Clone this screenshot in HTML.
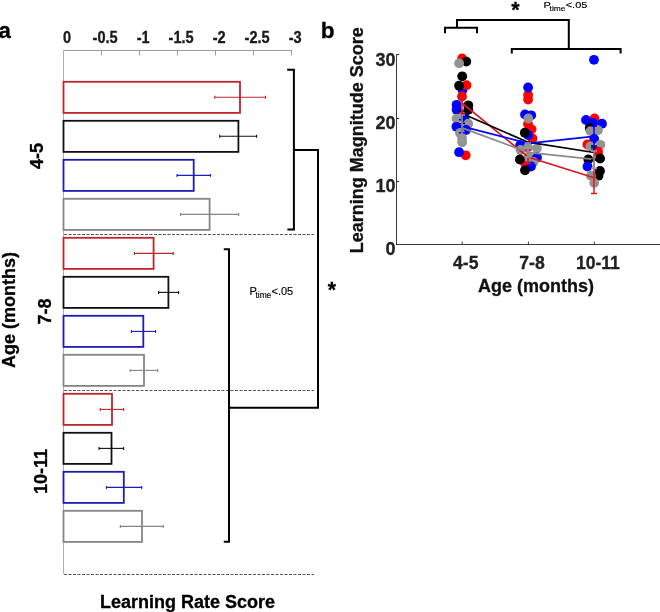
<!DOCTYPE html><html><head><meta charset="utf-8"><style>html,body{margin:0;padding:0;background:#fff;}svg{display:block;will-change:transform}</style></head><body>
<svg width="660" height="612" viewBox="0 0 660 612" font-family="Liberation Sans, sans-serif">
<rect width="660" height="612" fill="#fff"/>
<text x="-1.6" y="37.7" font-size="22.2" font-weight="bold" fill="#000" stroke="#000" stroke-width="0.3">a</text>
<line x1="63.5" y1="50.5" x2="292" y2="50.5" stroke="#9a9a9a" stroke-width="1"/>
<line x1="63.5" y1="50" x2="63.5" y2="574" stroke="#adadad" stroke-width="1"/>
<text transform="translate(67.1,42.9) scale(0.97,1.1)" font-size="15" font-weight="bold" fill="#1a1a1a" text-anchor="middle" stroke="#1a1a1a" stroke-width="0.3">0</text>
<line x1="101.5" y1="50" x2="101.5" y2="55.5" stroke="#9a9a9a" stroke-width="1"/>
<text transform="translate(105.1,42.9) scale(0.97,1.1)" font-size="15" font-weight="bold" fill="#1a1a1a" text-anchor="middle" stroke="#1a1a1a" stroke-width="0.3">-0.5</text>
<line x1="139.5" y1="50" x2="139.5" y2="55.5" stroke="#9a9a9a" stroke-width="1"/>
<text transform="translate(143.1,42.9) scale(0.97,1.1)" font-size="15" font-weight="bold" fill="#1a1a1a" text-anchor="middle" stroke="#1a1a1a" stroke-width="0.3">-1</text>
<line x1="177.5" y1="50" x2="177.5" y2="55.5" stroke="#9a9a9a" stroke-width="1"/>
<text transform="translate(181.1,42.9) scale(0.97,1.1)" font-size="15" font-weight="bold" fill="#1a1a1a" text-anchor="middle" stroke="#1a1a1a" stroke-width="0.3">-1.5</text>
<line x1="215.5" y1="50" x2="215.5" y2="55.5" stroke="#9a9a9a" stroke-width="1"/>
<text transform="translate(219.1,42.9) scale(0.97,1.1)" font-size="15" font-weight="bold" fill="#1a1a1a" text-anchor="middle" stroke="#1a1a1a" stroke-width="0.3">-2</text>
<line x1="253.5" y1="50" x2="253.5" y2="55.5" stroke="#9a9a9a" stroke-width="1"/>
<text transform="translate(257.1,42.9) scale(0.97,1.1)" font-size="15" font-weight="bold" fill="#1a1a1a" text-anchor="middle" stroke="#1a1a1a" stroke-width="0.3">-2.5</text>
<line x1="291.5" y1="50" x2="291.5" y2="55.5" stroke="#9a9a9a" stroke-width="1"/>
<text transform="translate(295.1,42.9) scale(0.97,1.1)" font-size="15" font-weight="bold" fill="#1a1a1a" text-anchor="middle" stroke="#1a1a1a" stroke-width="0.3">-3</text>
<rect x="63.5" y="81.8" width="176.5" height="31.1" fill="none" stroke="#c0252b" stroke-width="1.8"/>
<line x1="214.8" y1="97.3" x2="265.5" y2="97.3" stroke="#c0252b" stroke-width="1.1"/>
<line x1="214.8" y1="95.8" x2="214.8" y2="98.8" stroke="#c0252b" stroke-width="1.1"/>
<line x1="265.5" y1="95.8" x2="265.5" y2="98.8" stroke="#c0252b" stroke-width="1.1"/>
<rect x="63.5" y="120.8" width="174.9" height="31.1" fill="none" stroke="#111111" stroke-width="1.8"/>
<line x1="219.8" y1="136.3" x2="256.6" y2="136.3" stroke="#111111" stroke-width="1.1"/>
<line x1="219.8" y1="134.8" x2="219.8" y2="137.8" stroke="#111111" stroke-width="1.1"/>
<line x1="256.6" y1="134.8" x2="256.6" y2="137.8" stroke="#111111" stroke-width="1.1"/>
<rect x="63.5" y="159.8" width="130.2" height="31.1" fill="none" stroke="#1e1eb4" stroke-width="1.8"/>
<line x1="177.0" y1="175.4" x2="210.5" y2="175.4" stroke="#1e1eb4" stroke-width="1.1"/>
<line x1="177.0" y1="173.9" x2="177.0" y2="176.9" stroke="#1e1eb4" stroke-width="1.1"/>
<line x1="210.5" y1="173.9" x2="210.5" y2="176.9" stroke="#1e1eb4" stroke-width="1.1"/>
<rect x="63.5" y="198.8" width="146.1" height="31.1" fill="none" stroke="#858585" stroke-width="1.8"/>
<line x1="180.6" y1="214.4" x2="238.7" y2="214.4" stroke="#858585" stroke-width="1.1"/>
<line x1="180.6" y1="212.9" x2="180.6" y2="215.9" stroke="#858585" stroke-width="1.1"/>
<line x1="238.7" y1="212.9" x2="238.7" y2="215.9" stroke="#858585" stroke-width="1.1"/>
<rect x="63.5" y="237.8" width="90.1" height="31.1" fill="none" stroke="#c0252b" stroke-width="1.8"/>
<line x1="134.4" y1="253.4" x2="173.3" y2="253.4" stroke="#c0252b" stroke-width="1.1"/>
<line x1="134.4" y1="251.9" x2="134.4" y2="254.9" stroke="#c0252b" stroke-width="1.1"/>
<line x1="173.3" y1="251.9" x2="173.3" y2="254.9" stroke="#c0252b" stroke-width="1.1"/>
<rect x="63.5" y="276.8" width="104.9" height="31.1" fill="none" stroke="#111111" stroke-width="1.8"/>
<line x1="158.6" y1="292.4" x2="178.6" y2="292.4" stroke="#111111" stroke-width="1.1"/>
<line x1="158.6" y1="290.9" x2="158.6" y2="293.9" stroke="#111111" stroke-width="1.1"/>
<line x1="178.6" y1="290.9" x2="178.6" y2="293.9" stroke="#111111" stroke-width="1.1"/>
<rect x="63.5" y="315.8" width="79.8" height="31.1" fill="none" stroke="#1e1eb4" stroke-width="1.8"/>
<line x1="131.4" y1="331.4" x2="155.6" y2="331.4" stroke="#1e1eb4" stroke-width="1.1"/>
<line x1="131.4" y1="329.9" x2="131.4" y2="332.9" stroke="#1e1eb4" stroke-width="1.1"/>
<line x1="155.6" y1="329.9" x2="155.6" y2="332.9" stroke="#1e1eb4" stroke-width="1.1"/>
<rect x="63.5" y="354.8" width="80.5" height="31.1" fill="none" stroke="#858585" stroke-width="1.8"/>
<line x1="130.2" y1="370.4" x2="157.7" y2="370.4" stroke="#858585" stroke-width="1.1"/>
<line x1="130.2" y1="368.9" x2="130.2" y2="371.9" stroke="#858585" stroke-width="1.1"/>
<line x1="157.7" y1="368.9" x2="157.7" y2="371.9" stroke="#858585" stroke-width="1.1"/>
<rect x="63.5" y="393.8" width="48.5" height="31.1" fill="none" stroke="#c0252b" stroke-width="1.8"/>
<line x1="100.3" y1="409.4" x2="123.6" y2="409.4" stroke="#c0252b" stroke-width="1.1"/>
<line x1="100.3" y1="407.9" x2="100.3" y2="410.9" stroke="#c0252b" stroke-width="1.1"/>
<line x1="123.6" y1="407.9" x2="123.6" y2="410.9" stroke="#c0252b" stroke-width="1.1"/>
<rect x="63.5" y="432.8" width="48.0" height="31.1" fill="none" stroke="#111111" stroke-width="1.8"/>
<line x1="99.0" y1="448.4" x2="123.6" y2="448.4" stroke="#111111" stroke-width="1.1"/>
<line x1="99.0" y1="446.9" x2="99.0" y2="449.9" stroke="#111111" stroke-width="1.1"/>
<line x1="123.6" y1="446.9" x2="123.6" y2="449.9" stroke="#111111" stroke-width="1.1"/>
<rect x="63.5" y="471.8" width="60.3" height="31.1" fill="none" stroke="#1e1eb4" stroke-width="1.8"/>
<line x1="106.4" y1="487.4" x2="141.7" y2="487.4" stroke="#1e1eb4" stroke-width="1.1"/>
<line x1="106.4" y1="485.9" x2="106.4" y2="488.9" stroke="#1e1eb4" stroke-width="1.1"/>
<line x1="141.7" y1="485.9" x2="141.7" y2="488.9" stroke="#1e1eb4" stroke-width="1.1"/>
<rect x="63.5" y="510.8" width="78.5" height="31.1" fill="none" stroke="#858585" stroke-width="1.8"/>
<line x1="120.3" y1="526.4" x2="163.3" y2="526.4" stroke="#858585" stroke-width="1.1"/>
<line x1="120.3" y1="524.9" x2="120.3" y2="527.9" stroke="#858585" stroke-width="1.1"/>
<line x1="163.3" y1="524.9" x2="163.3" y2="527.9" stroke="#858585" stroke-width="1.1"/>
<line x1="64" y1="234.5" x2="314" y2="234.5" stroke="#555" stroke-width="1" stroke-dasharray="3 1.5"/>
<line x1="64" y1="390.5" x2="314" y2="390.5" stroke="#555" stroke-width="1" stroke-dasharray="3 1.5"/>
<line x1="64" y1="574.5" x2="314" y2="574.5" stroke="#555" stroke-width="1" stroke-dasharray="3 1.5"/>
<path d="M287.2,69.8 H293.9 V229.4 H287.4 M293.9,150 H318 V407.7 H229 M223.8,249.2 H229 V541.8 H223.8" fill="none" stroke="#000" stroke-width="2"/>
<text x="249.4" y="294.8" font-size="11" fill="#000" stroke="#000" stroke-width="0.15">P<tspan font-size="8.4" dx="-1.3" dy="3">time</tspan><tspan dx="0.2" dy="-3">&lt;.05</tspan></text>
<text x="331.9" y="297" font-size="21.2" font-weight="bold" text-anchor="middle" fill="#000" stroke="#000" stroke-width="0.3">*</text>
<text transform="translate(43.2,156) rotate(-90)" font-size="18" font-weight="bold" text-anchor="middle" fill="#000" stroke="#000" stroke-width="0.3">4-5</text>
<text transform="translate(51,311.6) rotate(-90)" font-size="18" font-weight="bold" text-anchor="middle" fill="#000" stroke="#000" stroke-width="0.3">7-8</text>
<text transform="translate(47.4,471.5) rotate(-90)" font-size="18" font-weight="bold" text-anchor="middle" fill="#000" stroke="#000" stroke-width="0.3">10-11</text>
<text transform="translate(15.4,310) rotate(-90)" font-size="18" font-weight="bold" text-anchor="middle" fill="#000" stroke="#000" stroke-width="0.3">Age (months)</text>
<text x="100" y="608" font-size="18" font-weight="bold" fill="#000" stroke="#000" stroke-width="0.3">Learning Rate Score</text>
<text x="320.8" y="37.8" font-size="22.6" font-weight="bold" fill="#000" stroke="#000" stroke-width="0.3">b</text>
<text x="515.5" y="17" font-size="21.5" font-weight="bold" text-anchor="middle" fill="#000" stroke="#000" stroke-width="0.3">*</text>
<text transform="translate(543.6,8) scale(1,0.84)" font-size="11" fill="#000" stroke="#000" stroke-width="0.15">P<tspan font-size="8.4" dx="-1.3" dy="3.3">time</tspan><tspan dx="0.2" dy="-3.3">&lt;.05</tspan></text>
<path d="M445,33.3 V27.7 H477 V33.3 M457,27.7 V19.9 H568.8 V48.9 M511.8,53.6 V48.9 H620.6 V53.6" fill="none" stroke="#000" stroke-width="2"/>
<line x1="396.5" y1="54.2" x2="396.5" y2="244.5" stroke="#3a3a3a" stroke-width="1"/>
<line x1="396" y1="244.5" x2="660" y2="244.5" stroke="#3a3a3a" stroke-width="1"/>
<line x1="396.5" y1="54.5" x2="399.2" y2="54.5" stroke="#3a3a3a" stroke-width="1.2"/>
<text x="395.6" y="65.8" font-size="18" font-weight="bold" fill="#222" text-anchor="end" stroke="#222" stroke-width="0.3">30</text>
<line x1="396.5" y1="118.5" x2="399.2" y2="118.5" stroke="#3a3a3a" stroke-width="1.2"/>
<text x="395.6" y="129.0" font-size="18" font-weight="bold" fill="#222" text-anchor="end" stroke="#222" stroke-width="0.3">20</text>
<line x1="396.5" y1="181.5" x2="399.2" y2="181.5" stroke="#3a3a3a" stroke-width="1.2"/>
<text x="395.6" y="192.2" font-size="18" font-weight="bold" fill="#222" text-anchor="end" stroke="#222" stroke-width="0.3">10</text>
<text x="395.6" y="255.4" font-size="18" font-weight="bold" fill="#222" text-anchor="end" stroke="#222" stroke-width="0.3">0</text>
<line x1="462.2" y1="244" x2="462.2" y2="241.6" stroke="#3a3a3a" stroke-width="1"/>
<text x="465.8" y="269" font-size="17.6" font-weight="bold" fill="#222" text-anchor="middle" stroke="#222" stroke-width="0.3">4-5</text>
<line x1="528.4" y1="244" x2="528.4" y2="241.6" stroke="#3a3a3a" stroke-width="1"/>
<text x="532.0" y="269" font-size="17.6" font-weight="bold" fill="#222" text-anchor="middle" stroke="#222" stroke-width="0.3">7-8</text>
<line x1="594.3" y1="244" x2="594.3" y2="241.6" stroke="#3a3a3a" stroke-width="1"/>
<text x="597.9" y="269" font-size="17.6" font-weight="bold" fill="#222" text-anchor="middle" stroke="#222" stroke-width="0.3">10-11</text>
<text x="536" y="291.8" font-size="18" font-weight="bold" fill="#111" text-anchor="middle" stroke="#111" stroke-width="0.3">Age (months)</text>
<text transform="translate(362.8,140.3) rotate(-90)" font-size="18" font-weight="bold" text-anchor="middle" fill="#111" stroke="#111" stroke-width="0.3">Learning Magnitude Score</text>
<circle cx="462.1" cy="58.5" r="4.9" fill="#ff0000"/>
<circle cx="466.3" cy="61.6" r="4.9" fill="#000000"/>
<circle cx="459.1" cy="63.3" r="4.9" fill="#939393"/>
<circle cx="462.2" cy="76.3" r="4.9" fill="#000000"/>
<circle cx="462.5" cy="90.0" r="4.9" fill="#0000ff"/>
<circle cx="466.5" cy="85.2" r="4.9" fill="#ff0000"/>
<circle cx="459.1" cy="85.7" r="4.9" fill="#000000"/>
<circle cx="462" cy="96.5" r="4.9" fill="#ff0000"/>
<circle cx="456.6" cy="104.8" r="4.9" fill="#0000ff"/>
<circle cx="456.6" cy="109.8" r="4.9" fill="#0000ff"/>
<circle cx="468.3" cy="105.3" r="4.9" fill="#000000"/>
<circle cx="468.3" cy="109.8" r="4.9" fill="#000000"/>
<circle cx="464.6" cy="117.8" r="4.9" fill="#0000ff"/>
<circle cx="456.6" cy="118.7" r="4.9" fill="#939393"/>
<circle cx="468.2" cy="123.7" r="4.9" fill="#939393"/>
<circle cx="456.4" cy="126.8" r="4.9" fill="#0000ff"/>
<circle cx="466" cy="130" r="4.9" fill="#0000ff"/>
<circle cx="460" cy="133" r="4.9" fill="#939393"/>
<circle cx="462" cy="138" r="4.9" fill="#939393"/>
<circle cx="462.2" cy="142.3" r="4.9" fill="#939393"/>
<circle cx="465.7" cy="155.3" r="4.9" fill="#ff0000"/>
<circle cx="459.1" cy="152.2" r="4.9" fill="#0000ff"/>
<circle cx="528.1" cy="95" r="4.9" fill="#ff0000"/>
<circle cx="528.1" cy="99.5" r="4.9" fill="#ff0000"/>
<circle cx="528.1" cy="87.5" r="4.9" fill="#0000ff"/>
<circle cx="525" cy="114.5" r="4.9" fill="#0000ff"/>
<circle cx="531.2" cy="115.3" r="4.9" fill="#0000ff"/>
<circle cx="528" cy="124" r="4.9" fill="#ff0000"/>
<circle cx="531.5" cy="129.3" r="4.9" fill="#ff0000"/>
<circle cx="528.3" cy="118.5" r="4.9" fill="#939393"/>
<circle cx="532.5" cy="138.5" r="4.9" fill="#ff0000"/>
<circle cx="528" cy="135" r="4.9" fill="#0000ff"/>
<circle cx="524.8" cy="132.7" r="4.9" fill="#000000"/>
<circle cx="525" cy="163" r="4.9" fill="#ff0000"/>
<circle cx="520.1" cy="145.1" r="4.9" fill="#0000ff"/>
<circle cx="528.5" cy="157" r="4.9" fill="#939393"/>
<circle cx="520.5" cy="150" r="4.9" fill="#939393"/>
<circle cx="528" cy="147.6" r="4.9" fill="#939393"/>
<circle cx="536.9" cy="148.4" r="4.9" fill="#939393"/>
<circle cx="519.8" cy="159.5" r="4.9" fill="#000000"/>
<circle cx="537" cy="157.5" r="4.9" fill="#0000ff"/>
<circle cx="533.5" cy="162" r="4.9" fill="#939393"/>
<circle cx="531" cy="166.5" r="4.9" fill="#0000ff"/>
<circle cx="525" cy="170.3" r="4.9" fill="#000000"/>
<circle cx="594" cy="59.8" r="4.9" fill="#0000ff"/>
<circle cx="594.5" cy="118.5" r="4.9" fill="#ff0000"/>
<circle cx="586" cy="120" r="4.9" fill="#0000ff"/>
<circle cx="602" cy="123.7" r="4.9" fill="#0000ff"/>
<circle cx="593" cy="123" r="4.9" fill="#0000ff"/>
<circle cx="589.7" cy="127.9" r="4.9" fill="#000000"/>
<circle cx="590.4" cy="131.1" r="4.9" fill="#939393"/>
<circle cx="597.9" cy="130.2" r="4.9" fill="#939393"/>
<circle cx="594.2" cy="138.9" r="4.9" fill="#0000ff"/>
<circle cx="587.4" cy="144.5" r="4.9" fill="#ff0000"/>
<circle cx="590.3" cy="146.4" r="4.9" fill="#939393"/>
<circle cx="600.4" cy="144.8" r="4.9" fill="#939393"/>
<circle cx="598.1" cy="151.7" r="4.9" fill="#ff0000"/>
<circle cx="588.3" cy="159.5" r="4.9" fill="#000000"/>
<circle cx="600.1" cy="158.5" r="4.9" fill="#000000"/>
<circle cx="587.5" cy="166.5" r="4.9" fill="#0000ff"/>
<circle cx="600" cy="171" r="4.9" fill="#000000"/>
<circle cx="598.5" cy="175.7" r="4.9" fill="#000000"/>
<circle cx="591" cy="175.7" r="4.9" fill="#939393"/>
<circle cx="594.2" cy="182.9" r="4.9" fill="#939393"/>
<path d="M462,103 L528,157 L594,177.8" fill="none" stroke="#e0161e" stroke-width="1.7"/>
<path d="M462,113.5 L528,142.2 L594,152.5" fill="none" stroke="#000000" stroke-width="1.7"/>
<path d="M462,126.4 L528,143.3 L594,136.3" fill="none" stroke="#0000ff" stroke-width="1.7"/>
<path d="M462,127.9 L528,152.3 L594,159.4" fill="none" stroke="#8a8a8a" stroke-width="1.7"/>
<path d="M462,111 V123.5 M459,111 H465 M459,123.5 H465" fill="none" stroke="#000000" stroke-width="1.5"/>
<path d="M462,98 V113 M459,98 H465 M459,113 H465" fill="none" stroke="#e0161e" stroke-width="1.5"/>
<path d="M462,119.8 V132.8 M459,119.8 H465 M459,132.8 H465" fill="none" stroke="#0000ff" stroke-width="1.5"/>
<path d="M462,115 V141 M459,115 H465 M459,141 H465" fill="none" stroke="#9a9a9a" stroke-width="1.5"/>
<path d="M528,150 V163.5 M525,150 H531 M525,163.5 H531" fill="none" stroke="#e0161e" stroke-width="1.5"/>
<path d="M528,143 V157 M525,143 H531 M525,157 H531" fill="none" stroke="#9a9a9a" stroke-width="1.5"/>
<path d="M594,150 V193.5 M591,150 H597 M591,193.5 H597" fill="none" stroke="#e0161e" stroke-width="1.5"/>
<path d="M594,146 V160 M591,146 H597 M591,160 H597" fill="none" stroke="#000000" stroke-width="1.5"/>
<path d="M594,126 V147.7 M591,126 H597 M591,147.7 H597" fill="none" stroke="#0000ff" stroke-width="1.5"/>
<path d="M594,151 V168.2 M591,151 H597 M591,168.2 H597" fill="none" stroke="#9a9a9a" stroke-width="1.5"/>
</svg></body></html>
